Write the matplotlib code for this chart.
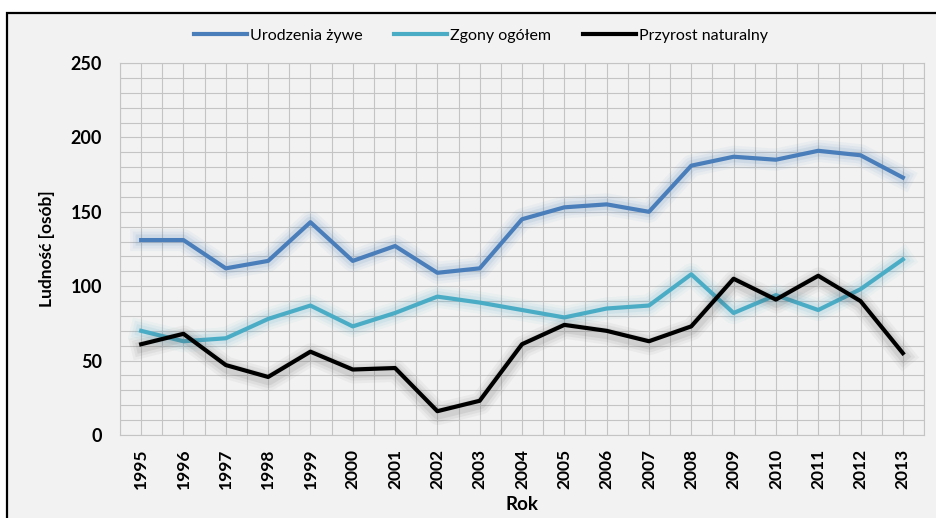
import matplotlib
matplotlib.use("Agg")
import matplotlib.pyplot as plt
import matplotlib.patheffects as pe
from matplotlib.patches import Rectangle
from matplotlib.ticker import MultipleLocator

plt.rcParams['font.family'] = ['Lato', 'DejaVu Sans']

lata = list(range(1995, 2014))
urodzenia = [131, 131, 112, 117, 143, 117, 127, 109, 112, 145, 153, 155, 150, 181, 187, 185, 191, 188, 173]
zgony = [70, 63, 65, 78, 87, 73, 82, 93, 89, 84, 79, 85, 87, 108, 82, 94, 84, 98, 118]
przyrost = [61, 68, 47, 39, 56, 44, 45, 16, 23, 61, 74, 70, 63, 73, 105, 91, 107, 90, 55]

kolory = ['#4a7ebb', '#4bacc6', '#000000']
nazwy = ['Urodzenia żywe', 'Zgony ogółem', 'Przyrost naturalny']

fig = plt.figure(figsize=(9.36, 5.18), dpi=100, facecolor='white')
# ramka wykresu
fig.add_artist(Rectangle((7/936, -0.2), 1.2, 1.2 - 13/518, transform=fig.transFigure,
                         facecolor='#f2f2f2', edgecolor='black', lw=1.6, zorder=0))

ax = fig.add_axes([120/936, 1-435/518, 804/936, 372/518])
ax.set_facecolor('#f2f2f2')

def glow(c, shadow=False):
    off = (0.5, -2) if shadow else (0, 0)
    gc = '#555555' if shadow else c
    return [pe.Stroke(linewidth=16, foreground=gc, alpha=0.05, offset=off),
            pe.Stroke(linewidth=12, foreground=gc, alpha=0.07, offset=off),
            pe.Stroke(linewidth=8, foreground=gc, alpha=0.1, offset=off),
            pe.Normal()]

for ys, c, n in zip([urodzenia, zgony, przyrost], kolory, nazwy):
    ax.plot(lata, ys, color=c, lw=3, label=n, zorder=3,
            path_effects=glow(c, shadow=(c == '#000000')))

ax.set_xlim(1994.5, 2013.5)
ax.set_ylim(0, 250)
ax.set_xticks(lata)
ax.set_xticklabels([str(r) for r in lata], rotation=90, fontweight='bold', fontsize=12.5)
ax.xaxis.set_minor_locator(MultipleLocator(0.5))
ax.yaxis.set_major_locator(MultipleLocator(50))
ax.yaxis.set_minor_locator(MultipleLocator(10))
for lab in ax.get_yticklabels():
    lab.set_fontweight('bold')
    lab.set_fontsize(13)
ax.tick_params(axis='both', which='both', length=0)
ax.tick_params(axis='x', pad=10)
ax.tick_params(axis='y', pad=13)
ax.grid(which='both', color='#c4c4c4', lw=0.8)
ax.set_axisbelow(True)
for s in ax.spines.values():
    s.set_color('#c4c4c4')
    s.set_linewidth(0.8)

ax.set_ylabel('Ludność [osób]', fontweight='bold', fontsize=12.5)
ax.yaxis.set_label_coords(-0.081, 0.5)
ax.set_xlabel('Rok', fontweight='bold', fontsize=13.5)
ax.xaxis.set_label_coords(0.5, -0.163)

leg = fig.legend(loc='center', bbox_to_anchor=(481/936, 1-36/518), ncol=3, frameon=False,
                 fontsize=11.5, handlelength=3.3, handletextpad=0.2, columnspacing=2.0)
for ln in leg.get_lines():
    ln.set_path_effects([])

fig.savefig('out.png', dpi=100, facecolor=fig.get_facecolor())
